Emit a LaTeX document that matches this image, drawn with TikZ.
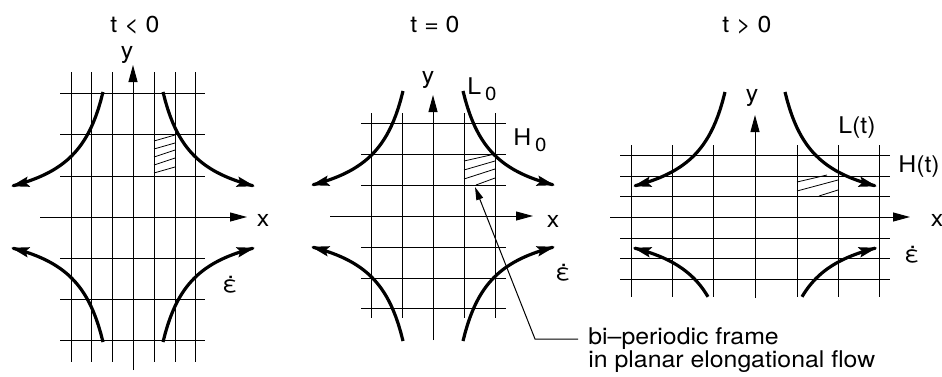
\documentclass[tikz,border=0pt]{standalone}
\usepackage{fontspec}
\setmainfont{TeX Gyre Heros}[FakeStretch=1.08]
\usetikzlibrary{arrows.meta}

\begin{document}
\begin{tikzpicture}[x=0.5pt,y=-0.5pt,
	every node/.style={font=\fontsize{11.5}{11.5}\selectfont,inner sep=0pt},
	gridline/.style={line width=0.45pt},
	hatch/.style={line width=0.4pt},
	axis/.style={line width=0.5pt,-{Triangle[length=8.5pt,width=4.5pt]}},
	flow/.style={line width=1.6pt,line join=round,samples=40,-{Stealth[length=9pt,width=5pt,inset=1.5pt]}}]
	\useasboundingbox (0,0) rectangle (942,376);
	\node (T1) at (135,25) {t < 0};
	\node (T2) at (435,25) {t = 0};
	\node (T3) at (747,25) {t > 0};
	\begin{scope}[shift={(133,217)}]
	\draw [gridline] (-62,-145) -- (-62,145) (-42,-145) -- (-42,145) (-21,-145) -- (-21,145)
		(21,-145) -- (21,145) (42,-145) -- (42,145) (62,-145) -- (62,145);
	\draw [gridline] (-73,-124) -- (72,-124) (-73,-83) -- (72,-83) (-73,-41) -- (72,-41)
		(-73,41) -- (72,41) (-73,82) -- (72,82) (-73,123) -- (72,123);
	\draw [hatch] (21,-76) -- (42,-82) (21,-68) -- (42,-74) (21,-60) -- (42,-67)
		(21,-52) -- (42,-59) (21,-44) -- (42,-50);
	\draw [axis] (-93,0) -- (114,0);
	\draw [axis] (0,153) -- (0,-152);
	\draw [flow] plot[domain=30:122] ({\x},{-3750/\x});
	\draw [flow] plot[domain=30:122] ({-\x},{-3750/\x});
	\draw [flow] plot[domain=30:122] ({-\x},{3750/\x});
	\draw [flow] plot[domain=30:122] ({\x},{3750/\x});
	\node (Y1) at (-6,-162) {y};
	\node (X1) at (130,3) {x};
	\node (E1) at (97,68) {ε̇};
	\end{scope}
	\begin{scope}[shift={(433,216)}]
	\draw [gridline] (-62,-103) -- (-62,102) (-31,-103) -- (-31,102)
		(31,-103) -- (31,102) (62,-103) -- (62,102);
	\draw [gridline] (-72,-93) -- (73,-93) (-72,-62) -- (73,-62) (-72,-31) -- (73,-31)
		(-72,31) -- (73,31) (-72,62) -- (73,62) (-72,92) -- (73,92);
	\draw [hatch] (31,-55) -- (62,-62) (31,-46) -- (62,-55) (31,-37) -- (62,-47)
		(43,-31) -- (62,-38);
	\draw [axis] (-103,0) -- (100,0);
	\draw [axis] (0,124) -- (0,-121);
	\draw [flow] plot[domain=30:122] ({\x},{-3750/\x});
	\draw [flow] plot[domain=30:122] ({-\x},{-3750/\x});
	\draw [flow] plot[domain=30:122] ({-\x},{3750/\x});
	\draw [flow] plot[domain=30:122] ({\x},{3750/\x});
	\node (Y2) at (-5,-136) {y};
	\node (L2) at (49,-127) {L\,\raisebox{-3pt}{\fontsize{9.5}{10}\selectfont 0}};
	\node (H2) at (97,-76) {H\,\raisebox{-3pt}{\fontsize{9.5}{10}\selectfont 0}};
	\node (X2) at (120,5) {x};
	\node (E2) at (130,57) {ε̇};
	\end{scope}
	\begin{scope}[shift={(755,217)}]
	\draw [gridline] (-124,-72) -- (-124,80) (-83,-72) -- (-83,80) (-42,-72) -- (-42,80)
		(42,-72) -- (42,80) (83,-72) -- (83,80) (124,-72) -- (124,80);
	\draw [gridline] (-135,-62) -- (135,-62) (-135,-41) -- (135,-41) (-135,-21) -- (135,-21)
		(-135,21) -- (135,21) (-135,41) -- (135,41) (-135,62) -- (135,62);
	\draw [hatch] (42,-35) -- (72,-42) (42,-26) -- (83,-37) (64,-21) -- (83,-27);
	\draw [axis] (-145,0) -- (155,0);
	\draw [axis] (0,81) -- (0,-102);
	\draw [flow] plot[domain=30:122] ({\x},{-3750/\x});
	\draw [flow] plot[domain=30:122] ({-\x},{-3750/\x});
	\draw [flow] plot[domain=47:122] ({-\x},{3750/\x});
	\draw [flow] plot[domain=47:122] ({\x},{3750/\x});
	\node (Y3) at (-3,-119) {y};
	\node (L3) at (102,-89) {L(t)};
	\node (H3) at (164,-50) {H(t)};
	\node (X3) at (182,3) {x};
	\node (E3) at (157,38) {ε̇};
	\end{scope}
	\coordinate (C) at (475,187);
	\coordinate (K) at (535,339);
	\coordinate (M) at (578,339);
	\node [anchor=west,align=left] (F) at (588,350) {bi–periodic frame\\in planar elongational flow};
	\draw [line width=0.5pt,-{Triangle[length=6.5pt,width=3.5pt]}] (M) -- (K) -- (C);
\end{tikzpicture}
\end{document}
